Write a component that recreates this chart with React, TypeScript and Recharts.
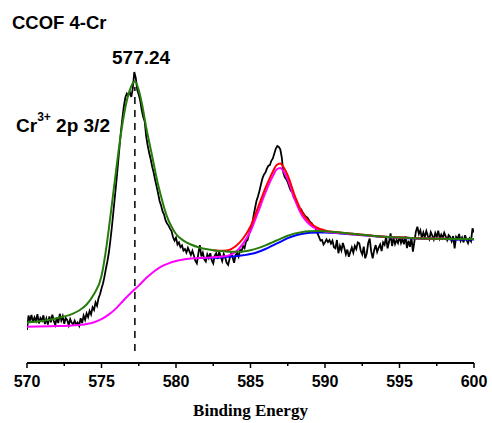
import React from 'react';
import { LineChart, Line, XAxis, YAxis, ReferenceLine } from 'recharts';

// raw spectrum, 570 -> 600 eV every 0.1 eV
const rawStart = 570;
const rawStep = 0.1;
const rawIntensity = [
  11.0, 15.8, 14.2, 16.0, 13.5, 15.2, 14.0, 16.3, 13.2, 15.0,
  14.1, 15.9, 13.0, 14.8, 12.8, 15.5, 13.6, 16.1, 14.0, 12.7,
  15.2, 13.3, 16.4, 14.2, 15.6, 13.1, 15.0, 14.3, 12.6, 14.6,
  13.4, 12.9, 14.1, 12.8, 13.5, 12.4, 14.9, 13.3, 15.8, 14.4,
  16.5, 15.3, 17.4, 16.2, 18.6, 17.7, 20.2, 19.1, 21.6, 22.9,
  24.8, 26.5, 28.8, 31.5, 34.0, 37.0, 41.0, 45.5, 50.5, 55.5,
  60.5, 66.0, 71.5, 77.0, 81.5, 85.5, 88.5, 89.8, 89.2, 90.3,
  88.7, 91.5, 97.0, 95.0, 91.0, 89.5, 87.5, 84.3, 82.0, 80.5,
  75.5, 72.5, 70.0, 68.0, 65.5, 63.5, 61.0, 58.8, 56.5, 54.0,
  52.5, 50.5, 49.5, 47.5, 46.5, 45.8, 44.8, 44.0, 42.0, 40.8,
  41.8, 39.5, 40.2, 38.6, 39.2, 37.5, 38.0, 36.8, 38.4, 37.2,
  36.0, 37.4, 35.8, 34.0, 33.2, 36.5, 39.3, 35.5, 36.8, 34.5,
  33.8, 36.2, 35.0, 36.6, 34.2, 33.2, 35.8, 36.6, 34.7, 37.1,
  35.5, 34.0, 36.3, 35.2, 33.4, 32.7, 34.8, 36.5, 35.2, 33.4,
  36.0, 36.6, 35.4, 37.7, 37.2, 39.0, 38.3, 40.5, 41.0, 43.0,
  44.3, 46.0, 48.9, 51.5, 54.0, 55.5, 57.3, 59.5, 61.5, 62.8,
  63.5, 64.8, 65.8, 66.0, 67.4, 68.2, 69.8, 71.5, 72.3, 72.0,
  71.2, 68.5, 63.5, 62.0, 61.2, 60.3, 58.8, 57.5, 57.0, 55.2,
  54.5, 53.5, 52.3, 51.0, 51.2, 50.3, 49.5, 48.8, 48.5, 47.8,
  47.0, 46.6, 45.9, 45.4, 44.5, 43.2, 42.0, 40.8, 41.0, 39.5,
  40.2, 41.2, 40.3, 41.0, 39.8, 40.8, 38.6, 38.2, 41.0, 36.6,
  39.0, 37.5, 40.0, 38.3, 36.2, 37.8, 35.4, 37.0, 38.5, 36.8,
  39.0, 38.0, 40.2, 39.9, 37.4, 36.2, 38.8, 34.9, 36.5, 40.0,
  41.5, 37.2, 34.9, 37.6, 39.3, 37.0, 38.4, 39.5, 37.3, 40.2,
  39.4, 42.1, 38.2, 40.4, 43.2, 39.0, 41.6, 39.6, 41.0, 40.0,
  42.2, 40.0, 41.4, 39.6, 42.3, 38.3, 40.8, 38.7, 41.8, 37.1,
  40.5, 43.8, 45.4, 43.0, 44.2, 41.6, 43.5, 42.0, 44.0, 42.4,
  41.3, 43.6, 42.5, 41.2, 43.3, 42.0, 44.1, 41.5, 42.8, 41.7,
  43.4, 42.2, 41.0, 42.6, 42.0, 40.6, 42.3, 38.2, 42.0, 41.3,
  43.0, 40.7, 41.8, 40.2, 42.6, 41.0, 39.9, 41.5, 40.6, 44.9,
  43.5,
];

// envelope fit (green)
const envelopeEnergy = [
  570, 571, 572, 573, 573.5, 574, 574.5, 575, 575.25, 575.5, 575.75, 576,
  576.25, 576.5, 576.75, 577, 577.25, 577.5, 577.75, 578, 578.25, 578.5,
  578.75, 579, 579.25, 579.5, 579.75, 580, 580.5, 581, 581.5, 582, 582.5,
  583, 583.5, 584, 584.5, 585, 585.5, 586, 586.5, 587, 587.5, 588, 588.5,
  589, 589.5, 590, 591, 592, 593, 594, 595, 596, 597, 598, 599, 600,
];
const envelopeIntensity = [
  13.5, 14.0, 14.9, 16.3, 17.5, 19.5, 23.0, 29.0, 36.0, 45.0, 55.0, 65.0,
  74.5, 82.5, 88.5, 92.3, 93.8, 91.0, 85.5, 78.5, 72.5, 66.5,
  60.5, 55.5, 51.0, 47.5, 45.0, 43.0, 40.8, 39.5, 38.6, 38.0, 37.6,
  37.3, 37.1, 37.1, 37.2, 37.6, 38.3, 39.2, 40.3, 41.4, 42.4, 43.2, 43.7,
  43.9, 44.0, 43.9, 43.5, 43.0, 42.5, 42.1, 41.8, 41.6, 41.5, 41.4, 41.3, 41.3,
];

// Shirley background + second component (magenta)
const backgroundEnergy = [
  570, 572, 573, 574, 574.5, 575, 575.5, 576, 576.5, 577, 577.5, 578,
  578.5, 579, 579.5, 580, 580.5, 581, 582, 583, 583.5, 584, 584.5, 585,
  585.5, 586, 586.5, 586.75, 587, 587.25, 587.5, 588, 588.5, 589, 589.5,
  590, 591, 592, 593, 594, 595, 596, 597, 598, 599, 600,
];
const backgroundIntensity = [
  12.1, 12.3, 12.5, 13.0, 13.6, 14.6, 16.2, 18.3, 21.0, 23.5, 25.8, 28.3,
  30.4, 32.1, 33.2, 34.0, 34.5, 34.8, 35.1, 35.4, 35.8, 37.0, 39.8, 43.9,
  50.2, 56.8, 62.3, 64.5, 65.0, 63.6, 61.1, 54.1, 48.8, 46.0, 44.5,
  43.8, 43.3, 42.9, 42.5, 42.1, 41.8, 41.6, 41.5, 41.4, 41.3, 41.3,
];

// 2p 1/2 side peak fit (red)
const peakEnergy = [
  582.5, 583, 583.5, 584, 584.5, 585, 585.5, 586, 586.5, 586.75, 587, 587.25,
  587.5, 588, 588.5, 589, 589.5, 590, 591, 592, 593, 594, 595, 596, 597, 598, 599, 600,
];
const peakIntensity = [
  37.6, 37.4, 37.6, 38.9, 41.5, 45.5, 51.8, 58.3, 63.8, 66.0, 66.5, 65.0,
  62.5, 55.4, 49.9, 46.8, 45.0, 44.2, 43.5, 43.0, 42.5, 42.1, 41.8, 41.6, 41.5, 41.4, 41.3, 41.3,
];

// step background (blue)
const stepEnergy = [
  581.5, 582.5, 583, 583.5, 584, 584.5, 585, 585.5, 586, 586.5, 587, 587.5,
  588, 588.5, 589, 589.5, 590, 591, 592, 593, 594, 595, 596, 597, 598, 599, 600,
];
const stepIntensity = [
  35.0, 35.1, 35.2, 35.4, 35.6, 35.9, 36.3, 37.0, 38.0, 39.2, 40.4, 41.6,
  42.5, 43.1, 43.4, 43.5, 43.5, 43.2, 42.8, 42.4, 42.0, 41.7, 41.5, 41.4, 41.3, 41.2, 41.2,
];

const xTicks = [570, 572.5, 575, 577.5, 580, 582.5, 585, 587.5, 590, 592.5, 595, 597.5, 600];
const peakPosition = 577.24;

const toPoints = (xs: number[], ys: number[]) => xs.map((e, i) => ({ e, v: ys[i] }));

const rawData = rawIntensity.map((v, i) => ({ e: +(rawStart + i * rawStep).toFixed(2), v }));
const envelopeData = toPoints(envelopeEnergy, envelopeIntensity);
const backgroundData = toPoints(backgroundEnergy, backgroundIntensity);
const peakData = toPoints(peakEnergy, peakIntensity);
const stepData = toPoints(stepEnergy, stepIntensity);

const sans = '"Liberation Sans", Arial, Helvetica, sans-serif';
const serif = '"Liberation Serif", "Times New Roman", serif';

function AxisTick(props: any) {
  const { x, y, payload } = props;
  const major = payload.value % 5 === 0;
  return (
    <g>
      <line x1={x} x2={x} y1={y} y2={y + (major ? 5 : 3)} stroke="#000" strokeWidth={1.5} />
      {major && (
        <text x={x} y={y + 24} textAnchor="middle" fontFamily={sans} fontWeight="bold" fontSize={16} fill="#000">
          {payload.value}
        </text>
      )}
    </g>
  );
}

export default function App() {
  return (
    <div style={{ position: 'absolute', left: 0, top: 0, width: 492, height: 423, background: '#fff' }}>
      <LineChart width={492} height={423} margin={{ top: 63, right: 18, bottom: 0, left: 27 }}>
        <XAxis
          dataKey="e"
          type="number"
          domain={[570, 600]}
          ticks={xTicks}
          allowDataOverflow
          height={60}
          tickLine={false}
          tickSize={0}
          tickMargin={0}
          axisLine={{ stroke: '#000', strokeWidth: 2 }}
          tick={(p: any) => <AxisTick {...p} />}
        />
        <YAxis hide type="number" domain={[0, 100]} allowDataOverflow />
        <ReferenceLine
          segment={[{ x: peakPosition, y: 4 }, { x: peakPosition, y: 92 }]}
          stroke="#000"
          strokeWidth={1.5}
          strokeDasharray="7 6"
        />
        <Line data={rawData} dataKey="v" type="linear" stroke="#000" strokeWidth={1.8} dot={false} isAnimationActive={false} />
        <Line data={stepData} dataKey="v" type="monotone" stroke="#0000ff" strokeWidth={2} dot={false} isAnimationActive={false} />
        <Line data={backgroundData} dataKey="v" type="monotone" stroke="#ff00ff" strokeWidth={2} dot={false} isAnimationActive={false} />
        <Line data={peakData} dataKey="v" type="monotone" stroke="#ff0000" strokeWidth={2} dot={false} isAnimationActive={false} />
        <Line data={envelopeData} dataKey="v" type="monotone" stroke="#267d0c" strokeWidth={2} dot={false} isAnimationActive={false} />
      </LineChart>
      <svg width={492} height={423} style={{ position: 'absolute', left: 0, top: 0, pointerEvents: 'none' }}>
        <text x={12} y={29} fontFamily={sans} fontWeight="bold" fontSize={18.5} fill="#000">CCOF 4-Cr</text>
        <text x={112} y={64} fontFamily={sans} fontWeight="bold" fontSize={19} fill="#000">577.24</text>
        <text x={16} y={132} fontFamily={sans} fontWeight="bold" fontSize={19} fill="#000">
          Cr
          <tspan fontSize={12} dy={-11}>3+</tspan>
          <tspan dy={11}> 2p 3/2</tspan>
        </text>
        <text x={250.5} y={416} textAnchor="middle" fontFamily={serif} fontWeight="bold" fontSize={17} fill="#000">
          Binding Energy
        </text>
      </svg>
    </div>
  );
}
